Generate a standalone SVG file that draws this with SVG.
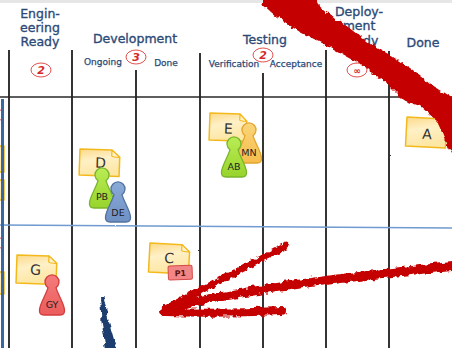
<svg xmlns="http://www.w3.org/2000/svg" width="452" height="348" viewBox="0 0 452 348">
  <defs>
    <style>
      .hdr { font-family: "DejaVu Sans", "Liberation Sans", sans-serif; font-size: 12.5px; fill: #2c4a78; stroke: #2c4a78; stroke-width: 0.35; text-anchor: middle; }
      .sub { font-family: "DejaVu Sans", "Liberation Sans", sans-serif; font-size: 9px; fill: #2c4a78; stroke: #2c4a78; stroke-width: 0.25; text-anchor: middle; }
      .wip { fill: none; stroke: #e05050; stroke-width: 1; }
      .wipt { font-family: "DejaVu Sans", "Liberation Sans", sans-serif; font-size: 11px; font-style: italic; font-weight: bold; fill: #d42a2a; text-anchor: middle; }
      .col { stroke: #202020; stroke-width: 1.8; fill: none; }
      .note { fill: url(#noteFill); stroke: #f3b91c; stroke-width: 1.5; stroke-linejoin: round; }
      .fold { fill: #fff3cf; stroke: #f3b91c; stroke-width: 1.2; stroke-linejoin: round; }
      .letter { font-family: "DejaVu Sans", "Liberation Sans", sans-serif; font-size: 14px; fill: #333; text-anchor: middle; }
      .who { font-family: "DejaVu Sans", "Liberation Sans", sans-serif; font-size: 9.5px; fill: #1e1e1e; text-anchor: middle; }
      .brush { fill: #c40000; }
      .brushline { fill: none; stroke: #c40000; stroke-linecap: round; }
    </style>
    <linearGradient id="noteFill" x1="0" y1="0" x2="0.3" y2="1">
      <stop offset="0" stop-color="#fcd98a"/>
      <stop offset="0.45" stop-color="#fff0c6"/>
      <stop offset="1" stop-color="#fde7a4"/>
    </linearGradient>
    <linearGradient id="gGreen" x1="0" y1="0" x2="0" y2="1">
      <stop offset="0" stop-color="#b9ec55"/>
      <stop offset="1" stop-color="#98d42c"/>
    </linearGradient>
    <linearGradient id="gBlue" x1="0" y1="0" x2="0" y2="1">
      <stop offset="0" stop-color="#8aaad8"/>
      <stop offset="1" stop-color="#6f90c4"/>
    </linearGradient>
    <linearGradient id="gOrange" x1="0" y1="0" x2="0" y2="1">
      <stop offset="0" stop-color="#fbd57a"/>
      <stop offset="1" stop-color="#f5bd4c"/>
    </linearGradient>
    <linearGradient id="gRed" x1="0" y1="0" x2="0" y2="1">
      <stop offset="0" stop-color="#f47c7c"/>
      <stop offset="1" stop-color="#ec5c5c"/>
    </linearGradient>
    <!-- pawn silhouette, origin at bottom centre -->
    <path id="pawn" d="M -4,-27.3 A 7 7 0 1 1 4,-27.3 C 6,-20 12,-12 12.5,-5 Q 13,0 8,0 L -8,0 Q -13,0 -12.5,-5 C -12,-12 -6,-20 -4,-27.3 Z"/>
    <filter id="ragged" x="-10%" y="-10%" width="120%" height="120%">
      <feTurbulence type="fractalNoise" baseFrequency="0.18" numOctaves="2" seed="3"/>
      <feDisplacementMap in="SourceGraphic" scale="6" xChannelSelector="R" yChannelSelector="G"/>
    </filter>
    <filter id="charcoal" x="-50%" y="-2%" width="200%" height="104%">
      <feTurbulence type="fractalNoise" baseFrequency="0.4" numOctaves="1" seed="7"/>
      <feDisplacementMap in="SourceGraphic" scale="1.6" xChannelSelector="R" yChannelSelector="G"/>
    </filter>
  </defs>

  <rect x="0" y="0" width="452" height="348" fill="#ffffff"/>
  <rect x="0" y="0" width="452" height="3" fill="#e6e6e6"/>

  <!-- board grid -->
  <g id="grid" filter="url(#charcoal)">
    <line class="col" x1="9" y1="50" x2="9" y2="348"/>
    <line class="col" x1="72" y1="50" x2="72" y2="348"/>
    <line class="col" x1="136" y1="70" x2="136" y2="348"/>
    <line class="col" x1="200" y1="53" x2="200" y2="348"/>
    <line class="col" x1="263" y1="73" x2="263" y2="348"/>
    <line class="col" x1="326" y1="50" x2="326" y2="348"/>
    <line class="col" x1="389" y1="51" x2="389" y2="348"/>
    <line x1="0" y1="97" x2="452" y2="97" stroke="#262626" stroke-width="1.6"/>
    <line x1="0" y1="225" x2="452" y2="228" stroke="#6f9ad0" stroke-width="1.5"/>
  </g>

  <!-- column headers -->
  <g id="headers">
    <text class="hdr" x="40" y="18">Engin-</text>
    <text class="hdr" x="40" y="32">eering</text>
    <text class="hdr" x="40" y="46">Ready</text>
    <text class="hdr" x="135" y="43">Development</text>
    <text class="sub" x="103" y="65">Ongoing</text>
    <text class="sub" x="166" y="66">Done</text>
    <text class="hdr" x="265" y="44">Testing</text>
    <text class="sub" x="234" y="67">Verification</text>
    <text class="sub" x="296" y="67">Acceptance</text>
    <text class="hdr" x="359" y="16">Deploy-</text>
    <text class="hdr" x="359" y="30">ment</text>
    <text class="hdr" x="359" y="45">Ready</text>
    <text class="hdr" x="423" y="47">Done</text>
  </g>

  <!-- WIP limits -->
  <g id="limits">
    <ellipse class="wip" cx="41" cy="70" rx="10" ry="7"/>
    <text class="wipt" x="41" y="74">2</text>
    <ellipse class="wip" cx="136" cy="57" rx="10" ry="7"/>
    <text class="wipt" x="136" y="61">3</text>
    <ellipse class="wip" cx="263" cy="55" rx="10" ry="7"/>
    <text class="wipt" x="263" y="59">2</text>
    <ellipse class="wip" cx="357" cy="70" rx="10" ry="7"/>
    <text class="wipt" x="357" y="74" style="font-size:9px">∞</text>
    <ellipse class="wip" cx="-5" cy="115" rx="8" ry="7"/>
    <ellipse class="wip" cx="-5" cy="243" rx="8" ry="7"/>
  </g>

  <!-- cards partly off the left edge -->
  <g id="edge-cards">
    <rect class="note" x="-40" y="146" width="44" height="26"/>
    <rect class="note" x="-40" y="180" width="44" height="20"/>
    <rect class="note" x="-40" y="272" width="44" height="22"/>
  </g>
  <line x1="2.5" y1="99" x2="2.5" y2="348" stroke="#3b66a0" stroke-width="3"/>

  <!-- cards -->
  <g id="card-D" transform="translate(80,149) rotate(2)">
    <path class="note" d="M0,0 L32,0 L40,7 L40,26 L0,26 Z"/>
    <path class="fold" d="M32,0 L32,6 Q33,7 40,7 Z"/>
    <text class="letter" x="21" y="18">D</text>
  </g>
  <g id="card-E" transform="translate(210,113) rotate(2)">
    <path class="note" d="M0,0 L30,0 L37,7 L37,27 L0,27 Z"/>
    <path class="fold" d="M30,0 L30,6 Q31,7 37,7 Z"/>
    <text class="letter" x="19" y="20">E</text>
  </g>
  <g id="card-A" transform="translate(407,117) rotate(3)">
    <path class="note" d="M0,0 L32,0 L40,7 L40,29 L0,29 Z"/>
    <path class="fold" d="M32,0 L32,6 Q33,7 40,7 Z"/>
    <text class="letter" x="21" y="21">A</text>
  </g>
  <g id="card-G" transform="translate(17,255) rotate(2)">
    <path class="note" d="M0,0 L32,0 L40,7 L40,28 L0,28 Z"/>
    <path class="fold" d="M32,0 L32,6 Q33,7 40,7 Z"/>
    <text class="letter" x="19" y="19">G</text>
  </g>
  <g id="card-C" transform="translate(150,243) rotate(3)">
    <path class="note" d="M0,0 L32,0 L40,7 L40,29 L0,29 Z"/>
    <path class="fold" d="M32,0 L32,6 Q33,7 40,7 Z"/>
    <text class="letter" x="20" y="19">C</text>
  </g>
  <g id="tag-P1" transform="translate(168,266) rotate(-2)">
    <rect x="0" y="0" width="24" height="14" rx="1.5" fill="#f28686" stroke="#d44848" stroke-width="1"/>
    <text x="12" y="10.5" font-family="DejaVu Sans, sans-serif" font-size="8" font-weight="bold" fill="#5a1414" text-anchor="middle">P1</text>
  </g>

  <!-- people -->
  <g id="pawn-PB" transform="translate(102,208)">
    <use href="#pawn" fill="url(#gGreen)" stroke="#7ab52a" stroke-width="1.3"/>
    <text class="who" x="0" y="-8">PB</text>
  </g>
  <g id="pawn-DE" transform="translate(118,222)">
    <use href="#pawn" fill="url(#gBlue)" stroke="#52739f" stroke-width="1.3"/>
    <text class="who" x="0" y="-6">DE</text>
  </g>
  <g id="pawn-MN" transform="translate(249,163)">
    <use href="#pawn" fill="url(#gOrange)" stroke="#e3a431" stroke-width="1.3"/>
    <text class="who" x="0" y="-7">MN</text>
  </g>
  <g id="pawn-AB" transform="translate(234,177)">
    <use href="#pawn" fill="url(#gGreen)" stroke="#7ab52a" stroke-width="1.3"/>
    <text class="who" x="0" y="-7">AB</text>
  </g>
  <g id="pawn-GY" transform="translate(52,315)">
    <use href="#pawn" fill="url(#gRed)" stroke="#d23e3e" stroke-width="1.3"/>
    <text class="who" x="0" y="-7">GY</text>
  </g>

  <!-- marker strokes drawn over the board -->
  <g id="connectors">
    <g filter="url(#ragged)">
      <polygon class="brush" points="262,-8 312,-8 318,4 335,18 348,27 366,41 390,55 410,68 430,84 458,102 458,166 446,142 437,121 420,106 403,100 387,84 357,62 330,47 300,32 278,18 262,4"/>
      <path class="brushline" stroke-width="6.5" d="M165,309 L286,246"/>
      <path class="brushline" stroke-width="9" d="M172,306 Q300,280 458,266"/>
      <path class="brushline" stroke-width="8" d="M164,312 Q220,314 282,311"/>
    </g>
    <polygon filter="url(#ragged)" fill="#1b3d6e" points="100,296 103.5,296 109,322 117,350 106,350 101.5,322"/>
  </g>
</svg>
